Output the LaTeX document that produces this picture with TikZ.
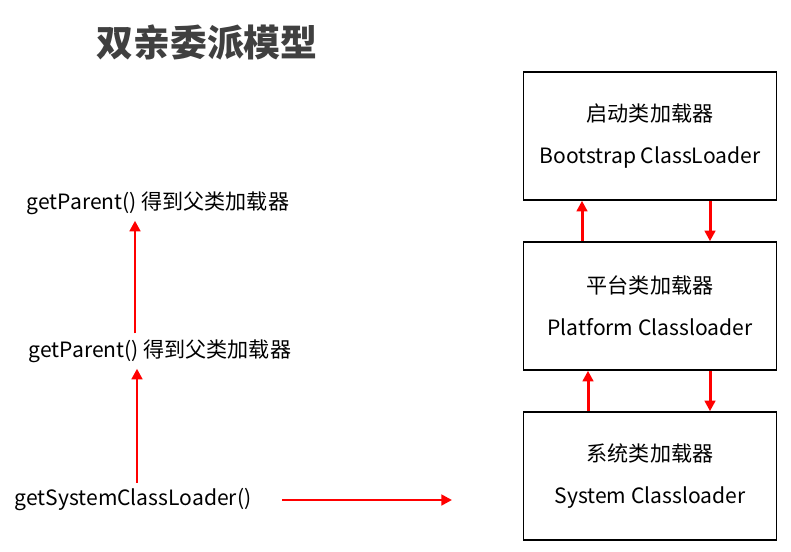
\documentclass[tikz,border=0pt]{standalone}
\usepackage{fontspec}
\setmainfont{Noto Sans CJK SC}
\usetikzlibrary{arrows.meta}
\begin{document}
\begin{tikzpicture}[x=0.02cm,y=-0.02cm,
  box/.style={draw, line width=0.9pt, minimum width=253*0.02cm, minimum height=128*0.02cm, align=center, font=\fontsize{12}{24}\selectfont},
  lbl/.style={font=\fontsize{12}{14}\selectfont},
  arr/.style={-{Triangle[length=6pt,width=6pt]}, red, line width=1.7pt}]
\useasboundingbox (0,0) rectangle (791,551);
\node[font=\fontsize{21}{24}\selectfont\bfseries, text=black!75] (title) at (207,42) {双亲委派模型};
\node[box] (boot) at (650,136) {启动类加载器\\Bootstrap ClassLoader};
\node[box] (plat) at (650,306) {平台类加载器\\Platform Classloader};
\node[box] (sys) at (650,476) {系统类加载器\\System Classloader};
\draw[arr] (582,0 |- plat.north) -- (582,0 |- boot.south);
\draw[arr] (710,0 |- boot.south) -- (710,0 |- plat.north);
\draw[arr] (588,0 |- sys.north) -- (588,0 |- plat.south);
\draw[arr] (710,0 |- plat.south) -- (710,0 |- sys.north);
\node[lbl] (p1) at (158,203) {getParent() 得到父类加载器};
\node[lbl] (p2) at (160,351) {getParent() 得到父类加载器};
\node[lbl] (gs) at (133,500) {getSystemClassLoader()};
\coordinate (tgt) at (452,500);
\draw[arr] (135,0 |- p2.north) -- (135,0 |- p1.south);
\draw[arr] (137,0 |- gs.north) -- (137,0 |- p2.south);
\draw[arr] (282,500) -- (tgt);
\end{tikzpicture}
\end{document}
